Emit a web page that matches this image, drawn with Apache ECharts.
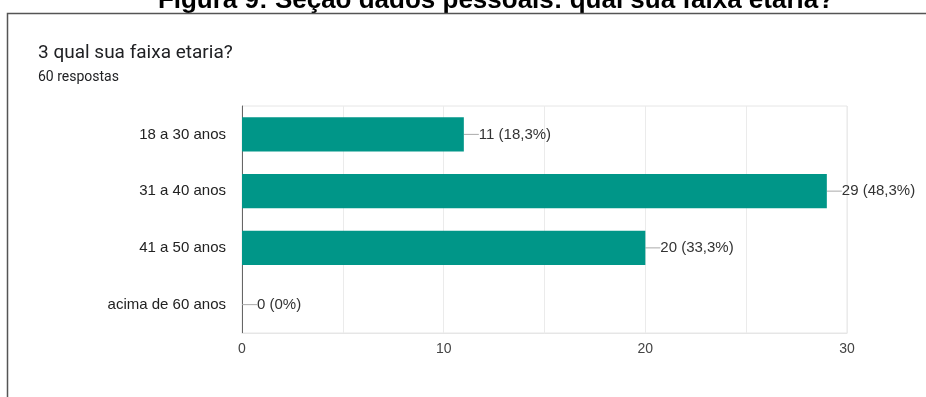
<!DOCTYPE html>
<html>
<head>
<meta charset="utf-8">
<script src="https://cdn.jsdelivr.net/npm/echarts@6/dist/echarts.min.js"></script>
<style>
  html, body { margin: 0; padding: 0; background: #fff; }
  #chart { width: 926px; height: 397px; }
</style>
</head>
<body>
<div id="chart"></div>
<script>
// Survey answers: age range of respondents
const categories = ['18 a 30 anos', '31 a 40 anos', '41 a 50 anos', 'acima de 60 anos'];
const counts = [11, 29, 20, 0];
const totalResponses = 60;
const xTicks = [0, 10, 20, 30];

const caption = 'Figura 9: Seção dados pessoais: qual sua faixa etária?';
const question = '3 qual sua faixa etaria?';
const subtitle = totalResponses + ' respostas';

const sans = '"Liberation Sans", Arial, sans-serif';

function pct(v) {
  const p = (v / totalResponses * 100).toFixed(1).replace('.', ',');
  return p.replace(/,0$/, '') + '%';
}

const chart = echarts.init(document.getElementById('chart'), null, { renderer: 'canvas' });

chart.setOption({
  animation: false,
  backgroundColor: '#ffffff',
  title: [
    {
      text: question,
      left: 38, top: 44, padding: 0,
      textStyle: { fontFamily: 'Roboto', fontSize: 19, fontWeight: 'normal', color: '#202124' }
    },
    {
      text: subtitle,
      left: 38, top: 70, padding: 0,
      textStyle: { fontFamily: 'Roboto', fontSize: 14, fontWeight: 'normal', color: '#202124' }
    }
  ],
  graphic: [
    {
      type: 'text',
      style: {
        text: caption,
        x: 496, y: 0.5,
        textAlign: 'center', textVerticalAlign: 'middle',
        font: 'bold 26px ' + sans,
        fill: '#000'
      }
    },
    {
      type: 'polyline',
      shape: { points: [[7.5, 397], [7.5, 13.5], [926, 13.5]] },
      style: { stroke: '#555', lineWidth: 1.5, fill: null }
    }
  ],
  grid: {
    left: 242, right: 79, top: 106, bottom: 64,
    show: true, borderColor: '#e6e6e6', borderWidth: 1
  },
  xAxis: {
    type: 'value',
    min: xTicks[0], max: xTicks[xTicks.length - 1], interval: 10,
    axisLine: { show: true, lineStyle: { color: '#e6e6e6' } },
    axisTick: { show: false },
    axisLabel: {
      margin: 9,
      color: '#444', fontSize: 14, fontFamily: sans,
      formatter: v => xTicks.includes(v) ? String(v) : ''
    },
    splitLine: { show: true, lineStyle: { color: '#ebebeb' } },
    minorTick: { show: false, splitNumber: 2 },
    minorSplitLine: { show: true, lineStyle: { color: '#ebebeb' } }
  },
  yAxis: {
    type: 'category',
    data: categories,
    inverse: true,
    axisLine: { show: true, lineStyle: { color: '#666', width: 1 } },
    axisTick: { show: false },
    axisLabel: {
      margin: 16,
      color: '#222', fontSize: 15, fontFamily: sans
    },
    splitLine: { show: false }
  },
  series: [{
    type: 'bar',
    data: counts,
    barCategoryGap: '40%',
    itemStyle: { color: '#009688' },
    label: {
      show: true,
      position: 'right',
      distance: 0,
      color: '#333', fontSize: 15, fontFamily: sans,
      formatter: p => p.value + ' (' + pct(p.value) + ')'
    },
    labelLayout: { dx: 15 },
    labelLine: { show: true, length2: 0, lineStyle: { color: '#aaa', width: 1 } }
  }]
});
</script>
</body>
</html>
